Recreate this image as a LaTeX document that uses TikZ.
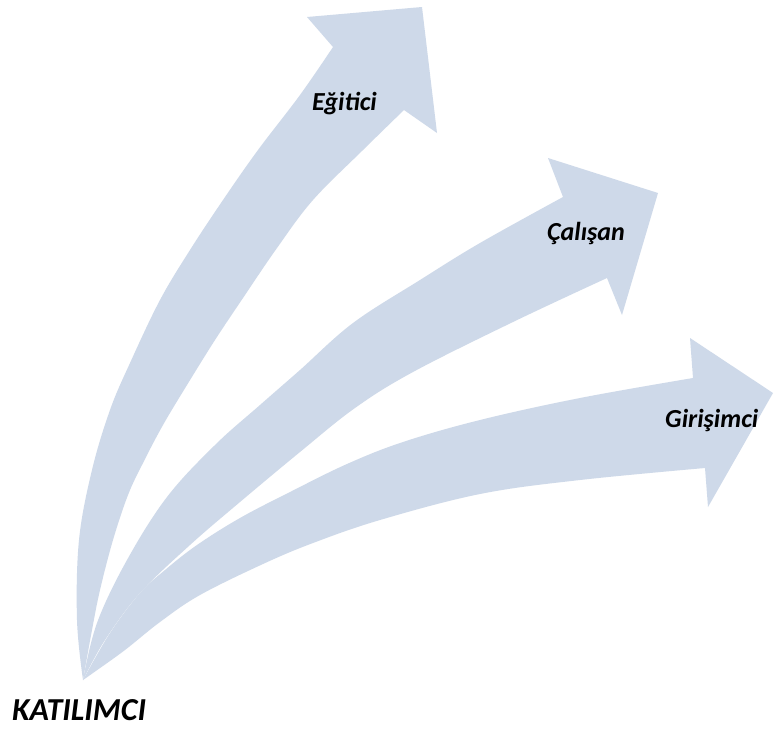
\documentclass[tikz,border=0pt]{standalone}
\usepackage{fontspec}
\setmainfont{Carlito}
\definecolor{arrowblue}{RGB}{206,217,233}
\tikzset{
  fanarrow/.style={fill=arrowblue, draw=none},
  edge/.style={smooth, tension=0.6},
  rolelabel/.style={anchor=base west, inner sep=0pt, font=\fontsize{26}{30}\selectfont\bfseries\itshape},
  rootlabel/.style={anchor=base west, inner sep=0pt, font=\fontsize{32}{38}\selectfont\bfseries\itshape}
}
\begin{document}
\begin{tikzpicture}[x=1pt, y=-1pt]
\useasboundingbox (0,0) rectangle (774,729);
\fill[white] (0,0) rectangle (774,729);

% lowest arrow
\fill[fanarrow]
  plot[edge] coordinates {(83,680) (110,633) (140,593) (165,570) (197,545) (240,518) (290,492) (347,464) (403,442) (480,420) (580,398) (693,378)}
  -- (690,338) -- (773,393) -- (708,507)
  -- plot[edge] coordinates {(705,468) (580,480) (480,494) (380,520) (313,543) (263,564) (200,595) (160,622) (125,650) (93,673) (83,680)}
  -- cycle;

% middle arrow
\fill[fanarrow]
  plot[edge] coordinates {(83,680) (97,623) (127,560) (167,497) (215,445) (260,405) (300,370) (353,323) (420,280) (480,243) (563,197)}
  -- (548,158) -- (658,193) -- (622,315)
  -- plot[edge] coordinates {(607,278) (513,322) (413,372) (355,408) (300,452) (240,502) (190,545) (140,593) (105,640) (83,680)}
  -- cycle;

% upper arrow
\fill[fanarrow]
  plot[edge] coordinates {(83,680) (77,620) (79,540) (92,470) (110,410) (130,363) (160,300) (190,250) (223,200) (258,150) (300,95) (333,47)}
  -- (307,17) -- (422,7) -- (437,133)
  -- plot[edge] coordinates {(404,110) (363,150) (313,200) (277,248) (243,298) (215,340) (187,385) (163,425) (143,463) (128,495) (113,540) (100,590) (92,630) (83,680)}
  -- cycle;

\node[rolelabel] (egitici) at (312,110) {Eğitici};
\node[rolelabel] (calisan) at (547,240) {Çalışan};
\node[rolelabel] (girisimci) at (665,427) {Girişimci};
\node[rootlabel] (katilimci) at (12,720) {KATILIMCI};
\end{tikzpicture}
\end{document}
